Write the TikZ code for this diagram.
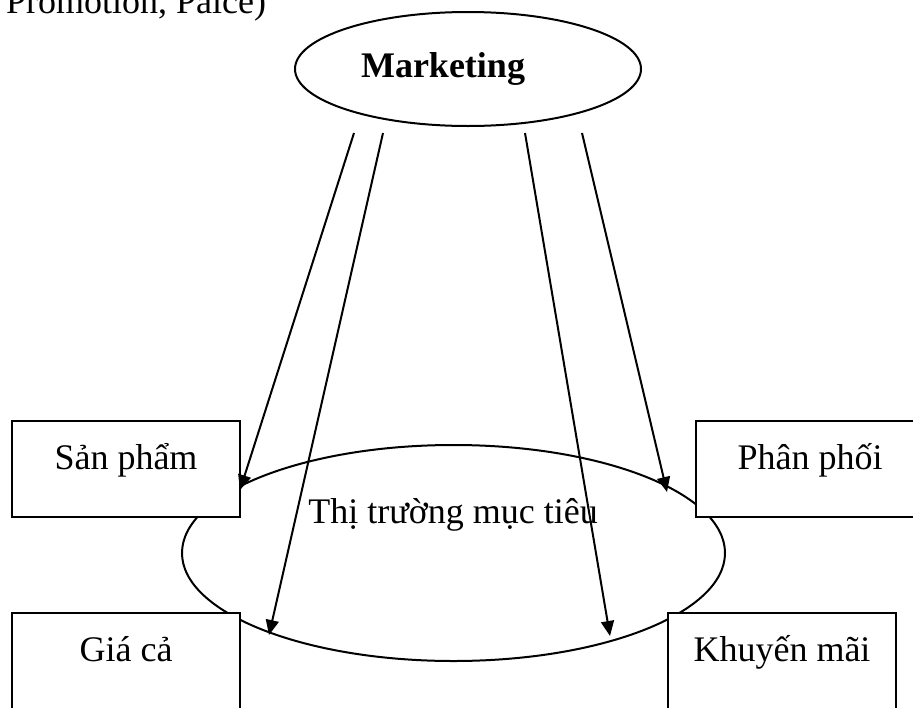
\documentclass[tikz,border=0pt]{standalone}
\usepackage{fontspec}
\setmainfont{Liberation Serif}
\usetikzlibrary{shapes.geometric,arrows.meta}
\begin{document}
\begin{tikzpicture}[x=1pt,y=-1pt,
  line width=2pt,
  txt/.style={font=\fontsize{36}{40}\selectfont, inner sep=0pt, anchor=base},
  boxnode/.style={draw, fill=white, line width=1.8pt},
  conn/.style={-{Triangle[length=15pt,width=13pt]}, line width=2pt},
  ]
\path[use as bounding box] (0,0) rectangle (913,707);
\clip (0,0) rectangle (913,707);

% top cut-off text
\node[txt, anchor=base west] (promo) at (5,13) {Promotion, Paice)};

% Marketing ellipse
\node[draw, ellipse, minimum width=346pt, minimum height=114pt, inner sep=0pt] (mkt) at (468,69) {};
\node[txt, font=\fontsize{36}{40}\selectfont\bfseries] (mktlabel) at (443,77) {Marketing};

% target market ellipse
\node[draw, ellipse, minimum width=543pt, minimum height=216pt, inner sep=0pt] (market) at (453.5,553) {};
\node[txt] (marketlabel) at (453,523) {Thị trường mục tiêu};

% boxes
\draw[boxnode] (12,421) rectangle (240,517);
\node[txt] (sp) at (126,469) {Sản phẩm};
\draw[boxnode] (12,720) -- (12,613) -- (240,613) -- (240,720);
\node[txt] (gc) at (126,661) {Giá cả};
\draw[boxnode] (930,421) -- (696,421) -- (696,517) -- (930,517);
\node[txt] (pp) at (810,469) {Phân phối};
\draw[boxnode] (668,720) -- (668,613) -- (896,613) -- (896,720);
\node[txt] (km) at (782,661) {Khuyến mãi};

% connector end points
\coordinate (s1) at (354,133);
\coordinate (s2) at (383,133);
\coordinate (s3) at (525,133);
\coordinate (s4) at (582,133);
\coordinate (t1) at (240,490);
\coordinate (t2) at (269,635);
\coordinate (t3) at (610,636);
\coordinate (t4) at (667,492);

\draw[conn] (s1) -- (t1);
\draw[conn] (s2) -- (t2);
\draw[conn] (s3) -- (t3);
\draw[conn] (s4) -- (t4);
\end{tikzpicture}
\end{document}
